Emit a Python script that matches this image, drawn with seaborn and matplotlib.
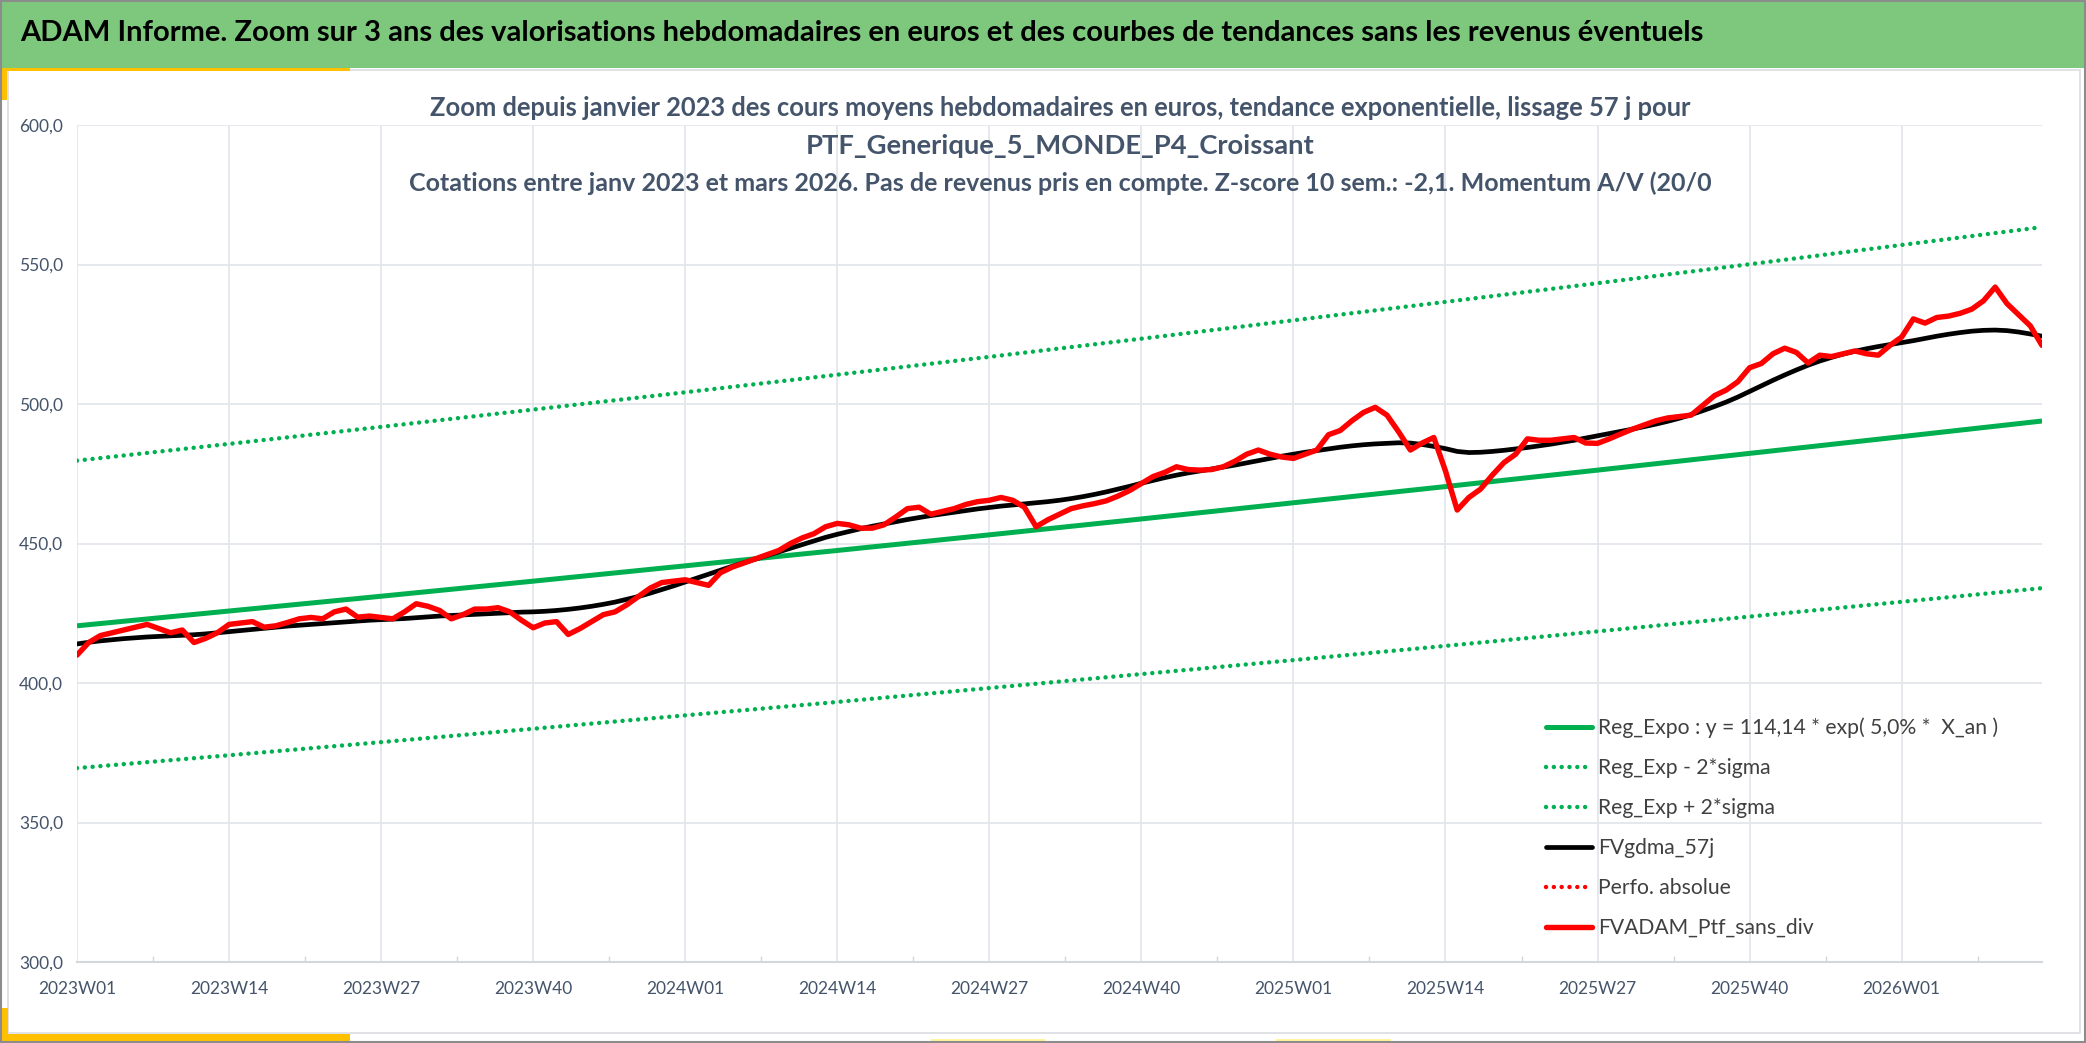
import numpy as np
import pandas as pd
import matplotlib
matplotlib.use("Agg")
import matplotlib.pyplot as plt
import seaborn as sns
from matplotlib.lines import Line2D
from matplotlib.patches import Rectangle

# ---------------- data ----------------
weeks = [f"{y}W{w:02d}" for y, n in ((2023, 52), (2024, 52), (2025, 52), (2026, 13))
         for w in range(1, n + 1)]

ptf_sans_div = [
    410.0, 414.5, 417.0, 418.0, 419.0, 420.0, 421.0, 419.5, 418.0, 419.0,
    414.5, 416.0, 418.0, 421.0, 421.5, 422.0, 420.0, 420.5, 421.7, 423.0,
    423.5, 423.0, 425.5, 426.5, 423.6, 424.0, 423.5, 423.0, 425.5, 428.4,
    427.5, 426.0, 423.0, 424.5, 426.5, 426.5, 427.0, 425.5, 422.5, 419.8,
    421.5, 422.0, 417.4, 419.5, 422.0, 424.5, 425.5, 428.0, 431.0, 434.0,
    436.0, 436.5, 437.0, 436.0, 435.0, 439.5, 441.5, 443.0, 444.5, 446.0,
    447.5, 450.0, 452.0, 453.5, 456.0, 457.2, 456.7, 455.5, 455.5, 456.7,
    459.5, 462.5, 463.0, 460.5, 461.5, 462.5, 464.0, 465.0, 465.5, 466.5,
    465.5, 463.0, 456.0, 458.5, 460.5, 462.5, 463.5, 464.3, 465.3, 467.0,
    469.0, 471.5, 474.0, 475.5, 477.5, 476.5, 476.3, 476.5, 477.5, 479.5,
    482.0, 483.5, 482.0, 481.0, 480.5, 482.0, 483.5, 489.0, 490.5, 494.0,
    497.0, 498.8, 496.0, 490.0, 483.5, 486.0, 488.0, 476.0, 462.0, 466.5,
    469.5, 474.5, 479.0, 482.0, 487.5, 487.0, 487.0, 487.5, 488.0, 486.0,
    485.9, 487.5, 489.3, 491.0, 492.5, 494.0, 495.0, 495.5, 496.0, 499.5,
    503.0, 505.0, 508.0, 513.0, 514.5, 518.0, 520.0, 518.5, 514.7, 517.5,
    517.0, 518.0, 519.0, 518.0, 517.5, 521.0, 524.0, 530.5, 529.0, 531.0,
    531.5, 532.5, 534.0, 537.0, 541.9, 536.0, 532.0, 528.0, 521.0,
]

fvgdma_57j = [
    414.0, 414.6, 415.1, 415.5, 415.9, 416.2, 416.5, 416.7, 416.9, 417.1,
    417.3, 417.6, 418.0, 418.4, 418.8, 419.2, 419.6, 420.0, 420.4, 420.7,
    421.0, 421.3, 421.6, 421.9, 422.2, 422.5, 422.7, 422.9, 423.1, 423.4,
    423.7, 424.0, 424.2, 424.4, 424.6, 424.8, 425.0, 425.2, 425.4, 425.5,
    425.7, 426.0, 426.4, 426.9, 427.5, 428.2, 429.0, 430.0, 431.0, 432.2,
    433.5, 434.8, 436.2, 437.6, 439.0, 440.4, 441.8, 443.1, 444.4, 445.7,
    447.0, 448.3, 449.6, 450.9, 452.2, 453.3, 454.3, 455.3, 456.2, 457.0,
    457.8, 458.6, 459.3, 460.0, 460.6, 461.2, 461.8, 462.4, 462.9, 463.4,
    463.8, 464.2, 464.6, 465.0, 465.5, 466.1, 466.8, 467.6, 468.5, 469.5,
    470.5, 471.6, 472.6, 473.6, 474.5, 475.3, 476.0, 476.7, 477.4, 478.1,
    478.9, 479.7, 480.5, 481.3, 482.0, 482.7, 483.3, 483.9, 484.5, 485.0,
    485.4, 485.7, 485.9, 486.1, 486.0, 485.5, 484.8, 484.0, 483.0, 482.6,
    482.7, 483.0, 483.4, 483.9, 484.4, 485.0, 485.6, 486.3, 487.0, 487.8,
    488.6, 489.4, 490.2, 491.0, 491.9, 492.8, 493.8, 494.9, 496.2, 497.6,
    499.1, 500.7, 502.5, 504.5, 506.5, 508.5, 510.4, 512.2, 513.9, 515.4,
    516.7, 517.9, 518.9, 519.8, 520.6, 521.3, 522.0, 522.7, 523.5, 524.3,
    525.0, 525.6, 526.1, 526.4, 526.5, 526.3, 525.8, 525.1, 524.3,
]

trend_weeks = ["2023W01", "2023W14", "2023W27", "2023W40", "2024W01", "2024W14",
               "2024W27", "2024W40", "2025W01", "2025W14", "2025W27", "2025W40",
               "2026W01", "2026W13"]
reg_expo = [420.5, 425.8, 431.1, 436.5, 442.0, 447.5, 453.1, 458.8, 464.6, 470.4,
            476.3, 482.3, 488.3, 493.9]
reg_plus = [479.7, 485.7, 491.8, 498.0, 504.2, 510.5, 516.9, 523.4, 530.0, 536.6,
            543.3, 550.1, 557.0, 563.4]
reg_minus = [369.5, 374.1, 378.8, 383.6, 388.4, 393.2, 398.2, 403.2, 408.2, 413.3,
             418.5, 423.8, 429.1, 434.0]

tick_labels = ["2023W01", "2023W14", "2023W27", "2023W40", "2024W01", "2024W14",
               "2024W27", "2024W40", "2025W01", "2025W14", "2025W27", "2025W40",
               "2026W01"]
y_ticks = [300, 350, 400, 450, 500, 550, 600]

legend_labels = ["Reg_Expo : y = 114,14 * exp( 5,0% *  X_an )",
                 "Reg_Exp - 2*sigma",
                 "Reg_Exp + 2*sigma",
                 "FVgdma_57j",
                 "Perfo. absolue",
                 "FVADAM_Ptf_sans_div"]

title = ("ADAM Informe. Zoom sur 3 ans des valorisations hebdomadaires en euros "
         "et des courbes de tendances sans les revenus éventuels")
subtitle_lines = [
    "Zoom depuis janvier 2023 des cours moyens hebdomadaires en euros, tendance exponentielle, lissage 57 j pour",
    "PTF_Generique_5_MONDE_P4_Croissant",
    "Cotations entre janv 2023 et mars 2026. Pas de revenus pris en compte. Z-score 10 sem.: -2,1. Momentum A/V (20/0",
]

# ---------------- style ----------------
sns.set_theme(style="white")
plt.rcParams["font.family"] = ["Lato", "DejaVu Sans"]

W, H = 2086, 1043
fig = plt.figure(figsize=(W / 100, H / 100), dpi=100)
fig.patch.set_facecolor("white")

def fx(px):
    return px / W

def fy(py):
    return 1 - py / H

GREEN = "#00B050"
RED = "#FF0000"
TXT = "#44546A"
GRID = "#E3E6EB"

# decorative frame
fig.add_artist(Rectangle((0, fy(68)), 1, 68 / H, transform=fig.transFigure,
                         facecolor="#7DC87D", edgecolor="none", zorder=0))
fig.add_artist(Rectangle((fx(8), fy(1033)), fx(2080) - fx(8), (1033 - 70) / H,
                         transform=fig.transFigure, facecolor="none",
                         edgecolor="#DADDE2", lw=1.2, zorder=1))
fig.add_artist(Rectangle((0, fy(71)), fx(350), 3 / H, transform=fig.transFigure,
                         facecolor="#FFC000", edgecolor="none", zorder=2))
fig.add_artist(Rectangle((0, fy(100)), fx(7), 32 / H, transform=fig.transFigure,
                         facecolor="#FFC000", edgecolor="none", zorder=2))
fig.add_artist(Rectangle((0, fy(1042)), fx(350), 8 / H, transform=fig.transFigure,
                         facecolor="#FFC000", edgecolor="none", zorder=2))
fig.add_artist(Rectangle((0, fy(1042)), fx(8), 34 / H, transform=fig.transFigure,
                         facecolor="#FFC000", edgecolor="none", zorder=2))
for x0, x1 in ((931, 1045), (1276, 1391)):
    fig.add_artist(Rectangle((fx(x0), fy(1042)), fx(x1 - x0), 3 / H,
                             transform=fig.transFigure, facecolor="#FFF59D",
                             edgecolor="none", zorder=2))
fig.add_artist(Rectangle((0.0005, 0.001), 0.999, 0.998, transform=fig.transFigure,
                         facecolor="none", edgecolor="#8C8C8C", lw=1.5, zorder=3))

# ---------------- axes ----------------
ax_left, ax_right, ax_top, ax_bottom = 77, 2042, 125, 962
ax = fig.add_axes([fx(ax_left), fy(ax_bottom), (ax_right - ax_left) / W,
                   (ax_bottom - ax_top) / H])
ax.set_facecolor("none")

idx = np.arange(len(weeks))
df = pd.DataFrame({"idx": idx, "ptf": ptf_sans_div, "gdma": fvgdma_57j})
tidx = [weeks.index(w) for w in trend_weeks]
dft = pd.DataFrame({"idx": tidx, "reg": reg_expo, "plus": reg_plus, "minus": reg_minus})

dot = (0, (0.01, 1.75))
sns.lineplot(data=dft, x="idx", y="reg", ax=ax, color=GREEN, lw=3.6,
             solid_capstyle="butt", zorder=3)
sns.lineplot(data=dft, x="idx", y="minus", ax=ax, color=GREEN, lw=3.2,
             linestyle=dot, dash_capstyle="round", zorder=3)
sns.lineplot(data=dft, x="idx", y="plus", ax=ax, color=GREEN, lw=3.2,
             linestyle=dot, dash_capstyle="round", zorder=3)
sns.lineplot(data=df, x="idx", y="gdma", ax=ax, color="black", lw=3.4,
             solid_joinstyle="round", zorder=4)
sns.lineplot(data=df, x="idx", y="ptf", ax=ax, color=RED, lw=3.9,
             solid_joinstyle="round", zorder=5)

ax.set_xlim(0, len(weeks) - 1)
ax.set_ylim(300, 600)
ax.set_xlabel("")
ax.set_ylabel("")

ax.set_xticks([weeks.index(t) for t in tick_labels])
ax.set_xticklabels(tick_labels)
ax.set_xticks([weeks.index(t) + 6.5 for t in tick_labels], minor=True)
ax.set_yticks(y_ticks)
ax.set_yticklabels([f"{v:.1f}".replace(".", ",") for v in y_ticks])

ax.grid(True, which="major", color=GRID, lw=1.3, zorder=0)
ax.set_axisbelow(True)
for s in ("left", "right", "top"):
    ax.spines[s].set_visible(False)
ax.spines["bottom"].set_color("#D3D6DB")
ax.spines["bottom"].set_linewidth(1.5)

ax.tick_params(axis="x", which="major", length=0, pad=14, labelsize=12.5,
               labelcolor=TXT)
ax.tick_params(axis="x", which="minor", length=4, width=1, color="#D3D6DB",
               direction="in", bottom=True)
ax.tick_params(axis="y", length=0, pad=10, labelsize=12.5, labelcolor=TXT)

# ---------------- legend ----------------
handles = [
    Line2D([], [], color=GREEN, lw=3.6),
    Line2D([], [], color=GREEN, lw=3.2, linestyle=dot, dash_capstyle="round"),
    Line2D([], [], color=GREEN, lw=3.2, linestyle=dot, dash_capstyle="round"),
    Line2D([], [], color="black", lw=3.4),
    Line2D([], [], color=RED, lw=3.2, linestyle=dot, dash_capstyle="round"),
    Line2D([], [], color=RED, lw=3.9),
]
leg_fs = 15.2
leg_fs_px = leg_fs * 100 / 72
leg_first_y, leg_step = 728, 40

def make_legend(anchor_top, spacing):
    return ax.legend(handles, legend_labels, loc="upper left",
                     bbox_to_anchor=(fx(1546), fy(anchor_top)),
                     bbox_transform=fig.transFigure, frameon=False, fontsize=leg_fs,
                     handlelength=46 / leg_fs_px, handletextpad=6 / leg_fs_px,
                     labelspacing=spacing, borderpad=0, borderaxespad=0,
                     labelcolor="#404040")

anchor = leg_first_y - 0.5 * leg_fs_px
spacing = 1.0
leg = make_legend(anchor, spacing)

# ---------------- titles ----------------
t_title = fig.text(fx(20), fy(33), title, ha="left", va="center", fontsize=19,
                   weight="bold", color="black")
sub_y = [108, 146, 183]
sub_widths = [1269, 509, 1304]
sub_texts = [fig.text(fx(1060), fy(y), s, ha="center", va="center", fontsize=16,
                      weight="bold", color=TXT) for s, y in zip(subtitle_lines, sub_y)]

fig.canvas.draw()
r = fig.canvas.get_renderer()
def fit(t, target):
    w = t.get_window_extent(r).width
    t.set_fontsize(t.get_fontsize() * target / w)
fit(t_title, 1678)
for t, wd in zip(sub_texts, sub_widths):
    fit(t, wd)

# calibrate legend row positions
for _ in range(3):
    fig.canvas.draw()
    r = fig.canvas.get_renderer()
    ys = [H - 0.5 * (b.y0 + b.y1) for b in
          (t.get_window_extent(r) for t in leg.get_texts())]
    step = (ys[-1] - ys[0]) / (len(ys) - 1)
    spacing += (leg_step - step) / leg_fs_px
    anchor += leg_first_y - ys[0]
    leg.remove()
    leg = make_legend(anchor, spacing)

fig.savefig("out.png", dpi=100, facecolor="white")
